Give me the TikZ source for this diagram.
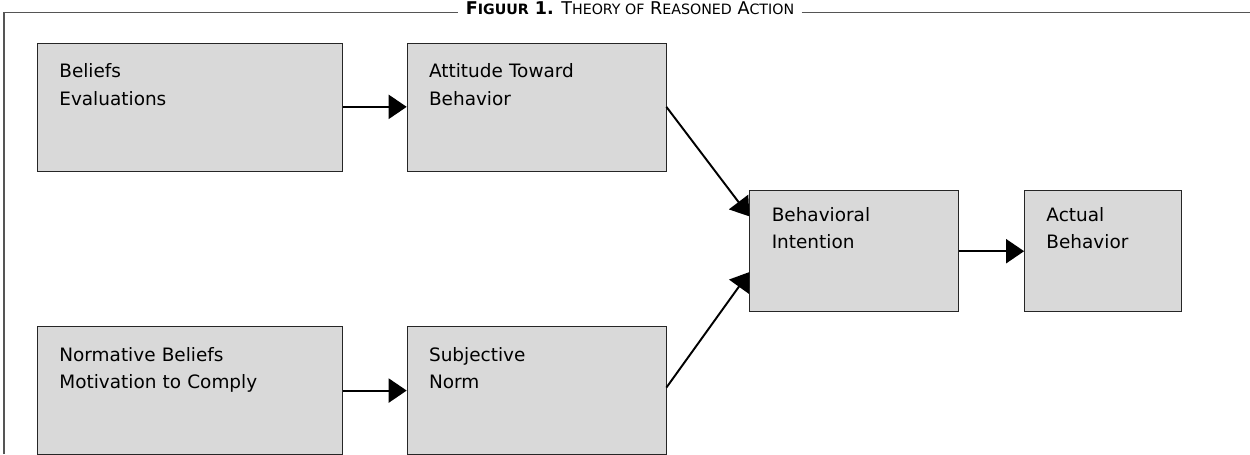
\documentclass[tikz,border=0pt]{standalone}
\usepackage{fontspec}
\setmainfont{DejaVu Sans}[Ligatures=NoCommon]
\usetikzlibrary{arrows.meta,positioning,calc}
\definecolor{boxgray}{HTML}{D9D9D9}
\definecolor{framegray}{HTML}{555555}
\newcommand{\smc}[2]{#1{\fontsize{8.1}{9}\selectfont #2}}

\begin{document}
\begin{tikzpicture}[
    block/.style={draw=black!85, fill=boxgray, align=left,
                  font=\fontsize{10.5}{15.5}\selectfont,
                  inner xsep=0.44cm, inner ysep=0.35cm,
                  text height=0.35cm, text depth=1.51cm},
    wideblock/.style={block, text width=5.22cm},
    midblock/.style={block, text width=4.30cm},
    arr/.style={-{Triangle[length=0.36cm,width=0.48cm]}, line width=1.1pt},
    frame/.style={draw=framegray, line width=0.9pt}
  ]
    \useasboundingbox (0,0) rectangle (25,-9.08);

    % title and frame
    \node[inner sep=0pt, anchor=base, font=\fontsize{10}{11}\selectfont] (ttl) at (12.6,-0.28)
      {\textbf{\smc{F}{IGUUR} 1.} \smc{T}{HEORY OF} \smc{R}{EASONED} \smc{A}{CTION}};
    \coordinate (fl) at (0.08,-9.08);
    \coordinate (fr) at (25,-0.25);
    \draw[frame] (fl) |- ([xshift=-0.14cm,yshift=0.03cm]ttl.base west);
    \draw[frame] ([xshift=0.14cm,yshift=0.03cm]ttl.base east) -- (fr);

    % boxes
    \node[wideblock, anchor=north west] (bel) at (0.74,-0.85) {Beliefs\\Evaluations};
    \node[midblock, right=1.28cm of bel] (att) {Attitude Toward\\Behavior};
    \node[wideblock, below=3.1cm of bel] (nor) {Normative Beliefs\\Motivation to Comply};
    \node[midblock, below=3.1cm of att]  (sub) {Subjective\\Norm};
    \coordinate (mid) at ($(att.east)!0.5!(sub.east)$);
    \node[block, text width=3.30cm, text height=0.27cm, text depth=1.45cm,
          right=1.66cm of mid, yshift=-0.05cm] (int) {Behavioral\\Intention};
    \node[block, text width=2.26cm, text height=0.27cm, text depth=1.45cm,
          right=1.3cm of int] (act) {Actual\\Behavior};

    % arrows
    \draw[arr] (bel) -- (att);
    \draw[arr] (nor) -- (sub);
    \draw[arr] (att.east) -- ([yshift=-0.52cm]int.north west);
    \draw[arr] ([yshift=0.06cm]sub.east) -- ([yshift=0.8cm]int.south west);
    \draw[arr] (int) -- (act);
\end{tikzpicture}
\end{document}
